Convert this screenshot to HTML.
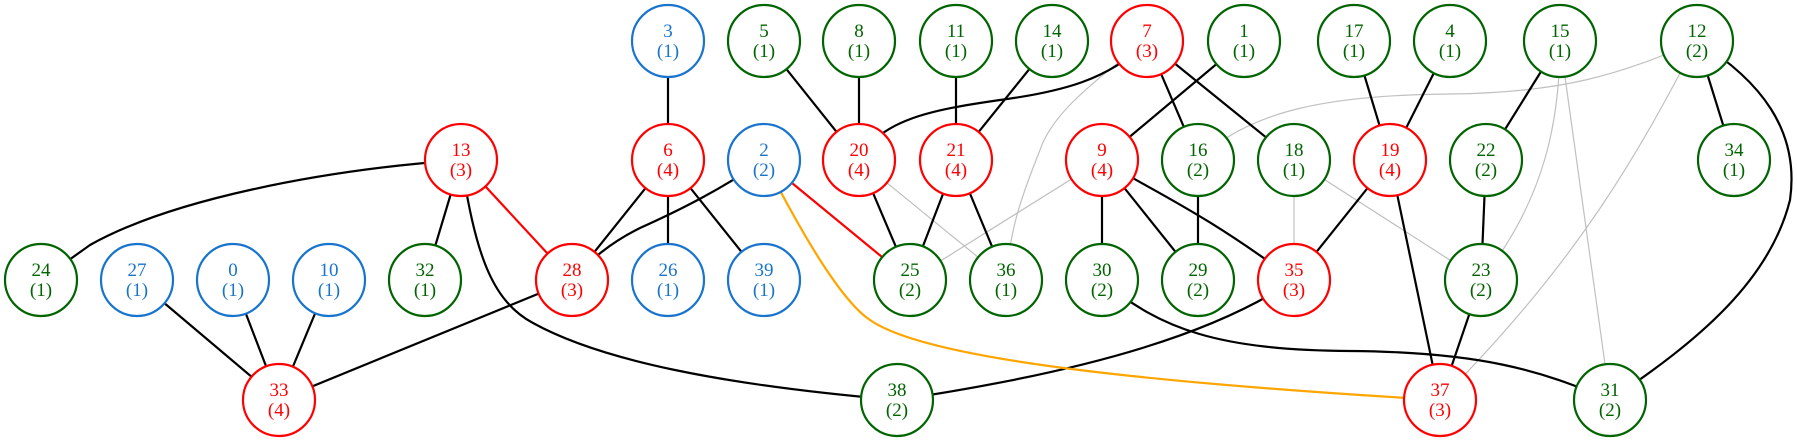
<!DOCTYPE html>
<html><head><meta charset="utf-8"><style>
html,body{margin:0;padding:0;background:#fff;}
svg text{font-family:"Liberation Serif",serif;font-size:19px;text-anchor:middle;}
</style></head><body>
<svg width="1797" height="441" viewBox="0 0 1797 441" xmlns="http://www.w3.org/2000/svg">
<g fill="none" stroke-width="2.2">
<g stroke="#c0c0c0" stroke-width="1.2">
<path d="M1147,41 C1080,90 1050,120 1040,150 C1020,200 1010,230 1006,280"/>
<path d="M1697,41 C1620,75 1560,93 1450,94 C1330,95 1250,110 1198,160"/>
<path d="M1560,41 C1560,120 1545,200 1481,280"/>
<path d="M1560,41 L1610,400"/>
<path d="M1697,41 C1640,150 1580,260 1440,400"/>
<path d="M859,160 L1006,280"/>
<path d="M1102,160 L910,280"/>
<path d="M1294,160 L1294,280"/>
<path d="M1294,160 L1481,280"/>
</g>
<g stroke="#000">
<path d="M668,41 L668,160"/>
<path d="M764,41 L859,160"/>
<path d="M859,41 L859,160"/>
<path d="M956,41 L956,160"/>
<path d="M1052,41 L956,160"/>
<path d="M859,160 C880,120 930,110 1000,100 C1060,92 1110,80 1147,41"/>
<path d="M1147,41 L1198,160"/>
<path d="M1147,41 L1294,160"/>
<path d="M1244,41 L1102,160"/>
<path d="M1354,41 L1390,160"/>
<path d="M1450,41 L1390,160"/>
<path d="M1560,41 L1486,160"/>
<path d="M1697,41 L1734,160"/>
<path d="M1697,41 C1760,80 1800,130 1790,200 C1770,280 1700,340 1610,400"/>
<path d="M461,160 C320,170 170,200 90,245 L41,280"/>
<path d="M461,160 L425,280"/>
<path d="M461,160 C475,250 490,300 533,323 C600,360 720,385 897,400"/>
<path d="M668,160 L572,280"/>
<path d="M668,160 L668,280"/>
<path d="M668,160 L764,280"/>
<path d="M764,160 C720,190 680,210 640,228 C610,243 590,260 572,280"/>
<path d="M859,160 L910,280"/>
<path d="M956,160 L910,280"/>
<path d="M956,160 L1006,280"/>
<path d="M1102,160 L1102,280"/>
<path d="M1102,160 L1198,280"/>
<path d="M1102,160 C1150,190 1200,210 1294,280"/>
<path d="M1198,160 L1198,280"/>
<path d="M1390,160 L1294,280"/>
<path d="M1390,160 L1440,400"/>
<path d="M1486,160 L1481,280"/>
<path d="M1481,280 L1440,400"/>
<path d="M137,280 L279,400"/>
<path d="M233,280 L279,400"/>
<path d="M329,280 L279,400"/>
<path d="M572,280 L279,400"/>
<path d="M1294,280 C1220,330 1100,370 897,400"/>
<path d="M1102,280 C1160,330 1220,350 1350,351 C1480,352 1540,370 1610,400"/>
</g>
<path stroke="#ff0000" d="M461,160 L572,280"/>
<path stroke="#ff0000" d="M764,160 L910,280"/>
<path stroke="#ffa500" d="M764,160 C800,230 840,300 870,320 C920,355 1100,380 1440,400"/>
</g>
<g stroke-width="2.2" fill="#fff">
<g stroke="#006400">
<circle cx="764" cy="41" r="36"/><circle cx="859" cy="41" r="36"/><circle cx="956" cy="41" r="36"/><circle cx="1052" cy="41" r="36"/><circle cx="1244" cy="41" r="36"/><circle cx="1354" cy="41" r="36"/><circle cx="1450" cy="41" r="36"/><circle cx="1560" cy="41" r="36"/><circle cx="1697" cy="41" r="36"/>
<circle cx="1198" cy="160" r="36"/><circle cx="1294" cy="160" r="36"/><circle cx="1486" cy="160" r="36"/><circle cx="1734" cy="160" r="36"/>
<circle cx="41" cy="280" r="36"/><circle cx="425" cy="280" r="36"/><circle cx="910" cy="280" r="36"/><circle cx="1006" cy="280" r="36"/><circle cx="1102" cy="280" r="36"/><circle cx="1198" cy="280" r="36"/><circle cx="1481" cy="280" r="36"/>
<circle cx="897" cy="400" r="36"/><circle cx="1610" cy="400" r="36"/>
</g>
<g stroke="#ff0000">
<circle cx="1147" cy="41" r="36"/><circle cx="461" cy="160" r="36"/><circle cx="668" cy="160" r="36"/><circle cx="859" cy="160" r="36"/><circle cx="956" cy="160" r="36"/><circle cx="1102" cy="160" r="36"/><circle cx="1390" cy="160" r="36"/>
<circle cx="572" cy="280" r="36"/><circle cx="1294" cy="280" r="36"/><circle cx="279" cy="400" r="36"/><circle cx="1440" cy="400" r="36"/>
</g>
<g stroke="#1874cd">
<circle cx="668" cy="41" r="36"/><circle cx="764" cy="160" r="36"/><circle cx="137" cy="280" r="36"/><circle cx="233" cy="280" r="36"/><circle cx="329" cy="280" r="36"/><circle cx="668" cy="280" r="36"/><circle cx="764" cy="280" r="36"/>
</g>
</g>
<g fill="#006400">
<text x="764" y="37">5</text><text x="764" y="57">(1)</text>
<text x="859" y="37">8</text><text x="859" y="57">(1)</text>
<text x="956" y="37">11</text><text x="956" y="57">(1)</text>
<text x="1052" y="37">14</text><text x="1052" y="57">(1)</text>
<text x="1244" y="37">1</text><text x="1244" y="57">(1)</text>
<text x="1354" y="37">17</text><text x="1354" y="57">(1)</text>
<text x="1450" y="37">4</text><text x="1450" y="57">(1)</text>
<text x="1560" y="37">15</text><text x="1560" y="57">(1)</text>
<text x="1697" y="37">12</text><text x="1697" y="57">(2)</text>
<text x="1198" y="156">16</text><text x="1198" y="176">(2)</text>
<text x="1294" y="156">18</text><text x="1294" y="176">(1)</text>
<text x="1486" y="156">22</text><text x="1486" y="176">(2)</text>
<text x="1734" y="156">34</text><text x="1734" y="176">(1)</text>
<text x="41" y="276">24</text><text x="41" y="296">(1)</text>
<text x="425" y="276">32</text><text x="425" y="296">(1)</text>
<text x="910" y="276">25</text><text x="910" y="296">(2)</text>
<text x="1006" y="276">36</text><text x="1006" y="296">(1)</text>
<text x="1102" y="276">30</text><text x="1102" y="296">(2)</text>
<text x="1198" y="276">29</text><text x="1198" y="296">(2)</text>
<text x="1481" y="276">23</text><text x="1481" y="296">(2)</text>
<text x="897" y="396">38</text><text x="897" y="416">(2)</text>
<text x="1610" y="396">31</text><text x="1610" y="416">(2)</text>
</g>
<g fill="#ff0000">
<text x="1147" y="37">7</text><text x="1147" y="57">(3)</text>
<text x="461" y="156">13</text><text x="461" y="176">(3)</text>
<text x="668" y="156">6</text><text x="668" y="176">(4)</text>
<text x="859" y="156">20</text><text x="859" y="176">(4)</text>
<text x="956" y="156">21</text><text x="956" y="176">(4)</text>
<text x="1102" y="156">9</text><text x="1102" y="176">(4)</text>
<text x="1390" y="156">19</text><text x="1390" y="176">(4)</text>
<text x="572" y="276">28</text><text x="572" y="296">(3)</text>
<text x="1294" y="276">35</text><text x="1294" y="296">(3)</text>
<text x="279" y="396">33</text><text x="279" y="416">(4)</text>
<text x="1440" y="396">37</text><text x="1440" y="416">(3)</text>
</g>
<g fill="#1874cd">
<text x="668" y="37">3</text><text x="668" y="57">(1)</text>
<text x="764" y="156">2</text><text x="764" y="176">(2)</text>
<text x="137" y="276">27</text><text x="137" y="296">(1)</text>
<text x="233" y="276">0</text><text x="233" y="296">(1)</text>
<text x="329" y="276">10</text><text x="329" y="296">(1)</text>
<text x="668" y="276">26</text><text x="668" y="296">(1)</text>
<text x="764" y="276">39</text><text x="764" y="296">(1)</text>
</g>
</svg>
</body></html>
